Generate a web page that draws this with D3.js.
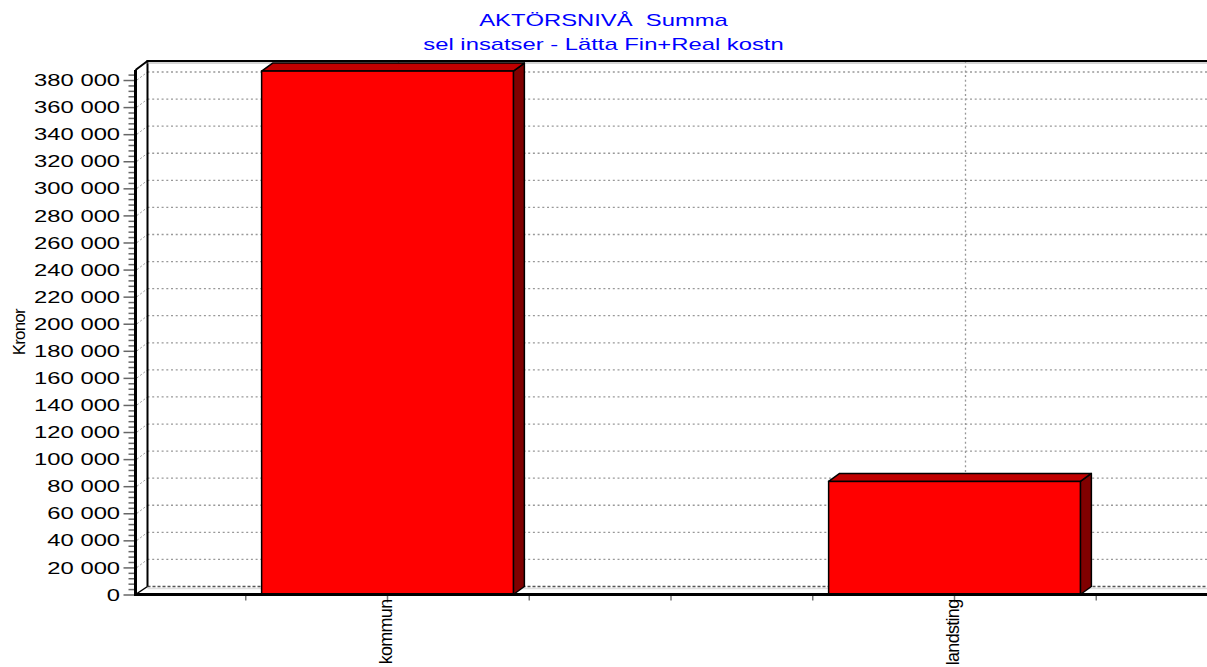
<!DOCTYPE html>
<html>
<head>
<meta charset="utf-8">
<script src="https://cdn.jsdelivr.net/npm/d3@7"></script>
<style>
  html, body { margin: 0; padding: 0; background: #fff; }
  svg { display: block; font-family: "Liberation Sans", Arial, sans-serif; }
</style>
</head>
<body>
<svg id="chart" width="1207" height="667"></svg>
<script>
// ---- data ----
const titleLines = ["AKTÖRSNIVÅ  Summa", "sel insatser - Lätta Fin+Real kostn"];
const yAxisLabel = "Kronor";
const categories = ["kommun", "landsting"];
const values = [386600, 83500];
const yTickValues = d3.range(0, 380001, 20000);
const yMinorTickValues = d3.range(0, 387000, 4000).filter(v => v % 20000 !== 0);
const yMax = 387400;

// ---- layout ----
const W = 1207, H = 667;
const frontLeft = 135.5, frontRight = 1207, frontBottom = 594.5, frontTop = 70;
const depthX = 11, depthY = 8;
const stretch = 1.4;

const svg = d3.select("#chart");

const y = d3.scaleLinear().domain([0, yMax]).range([frontBottom, frontTop]);
const x = d3.scaleBand().domain(categories)
  .range([frontLeft - 31.5, frontRight + 31])
  .paddingInner(0.556).paddingOuter(0.278);

const fmt = d3.formatLocale({ thousands: " ", grouping: [3], decimal: ",", currency: ["", ""] }).format(",");

// ---- back wall & floor ----
const backLeft = frontLeft + depthX + 1;
const backBottom = frontBottom - depthY;
const backTop = frontTop - depthY - 1;

const grid = svg.append("g");
yTickValues.filter(v => v > 0).forEach(v => {
  const yy = y(v);
  grid.append("line")
    .attr("x1", backLeft).attr("x2", W)
    .attr("y1", yy - depthY).attr("y2", yy - depthY)
    .attr("stroke", "#999").attr("stroke-width", 1.3).attr("stroke-dasharray", "2,2.7");
  grid.append("line")
    .attr("x1", frontLeft + 1.5).attr("x2", backLeft)
    .attr("y1", yy).attr("y2", yy - depthY)
    .attr("stroke", "#999").attr("stroke-width", 1).attr("stroke-dasharray", "2,2");
});
categories.forEach(c => {
  const xx = x(c) + x.bandwidth() / 2 + depthX;
  grid.append("line")
    .attr("x1", xx).attr("x2", xx)
    .attr("y1", backTop).attr("y2", backBottom)
    .attr("stroke", "#999").attr("stroke-width", 1.3).attr("stroke-dasharray", "2,2.7");
});

// floor
svg.append("line").attr("x1", backLeft).attr("x2", W)
  .attr("y1", backBottom + 2).attr("y2", backBottom + 2)
  .attr("stroke", "#ddd").attr("stroke-width", 1.5);
svg.append("line").attr("x1", backLeft).attr("x2", W)
  .attr("y1", backBottom).attr("y2", backBottom)
  .attr("stroke", "#555").attr("stroke-width", 1.3).attr("stroke-dasharray", "3,2");
// back wall frame
svg.append("path")
  .attr("d", `M${backLeft},${backBottom} L${backLeft},${backTop} L${W},${backTop}`)
  .attr("fill", "none").attr("stroke", "#000").attr("stroke-width", 2);
svg.append("line").attr("x1", backLeft).attr("x2", W)
  .attr("y1", backTop + 2).attr("y2", backTop + 2)
  .attr("stroke", "#aaa").attr("stroke-width", 1);
// left wall diagonals
svg.append("line").attr("x1", frontLeft).attr("y1", frontTop)
  .attr("x2", backLeft).attr("y2", backTop).attr("stroke", "#000").attr("stroke-width", 2);
svg.append("line").attr("x1", frontLeft).attr("y1", frontBottom)
  .attr("x2", backLeft).attr("y2", backBottom).attr("stroke", "#000").attr("stroke-width", 1.5);

// ---- bars ----
const bars = svg.append("g");
categories.forEach((c, i) => {
  const x0 = x(c), x1 = x(c) + x.bandwidth();
  const yt = y(values[i]), yb = frontBottom;
  bars.append("path")
    .attr("d", `M${x1},${yt} L${x1 + depthX},${yt - depthY} L${x1 + depthX},${yb - depthY} L${x1},${yb} Z`)
    .attr("fill", "#800000").attr("stroke", "#000").attr("stroke-width", 1.5).attr("stroke-linejoin", "round");
  bars.append("path")
    .attr("d", `M${x0},${yt} L${x0 + depthX},${yt - depthY} L${x1 + depthX},${yt - depthY} L${x1},${yt} Z`)
    .attr("fill", "#c00000").attr("stroke", "#000").attr("stroke-width", 1.5).attr("stroke-linejoin", "round");
  bars.append("rect")
    .attr("x", x0).attr("y", yt).attr("width", x1 - x0).attr("height", yb - yt)
    .attr("fill", "#ff0000").attr("stroke", "#000").attr("stroke-width", 1.5);
});

// ---- y axis ----
const yAxisG = svg.append("g").attr("transform", `translate(${frontLeft},0)`);
yAxisG.call(d3.axisLeft(y).tickValues(yTickValues).tickFormat(fmt).tickSize(12).tickPadding(3));
yAxisG.select(".domain").remove();
yAxisG.selectAll(".tick line").attr("stroke", "#666").attr("stroke-width", 1.5);
yAxisG.selectAll(".tick text")
  .attr("font-size", 17).attr("fill", "#000")
  .attr("font-family", "Liberation Sans, Arial, sans-serif")
  .attr("x", -11).attr("dy", "0.33em")
  .attr("transform", `scale(${stretch},1)`);
yAxisG.selectAll(".minor").data(yMinorTickValues).enter().append("line")
  .attr("class", "minor")
  .attr("x1", -7).attr("x2", 0)
  .attr("y1", d => y(d) + 0.5).attr("y2", d => y(d) + 0.5)
  .attr("stroke", "#666").attr("stroke-width", 1.5);
svg.append("line").attr("x1", frontLeft).attr("x2", frontLeft)
  .attr("y1", frontTop).attr("y2", frontBottom + 1.5)
  .attr("stroke", "#000").attr("stroke-width", 3);

// ---- x axis ----
svg.append("line").attr("x1", frontLeft).attr("x2", W)
  .attr("y1", frontBottom).attr("y2", frontBottom)
  .attr("stroke", "#000").attr("stroke-width", 3);
const step = x.step();
const centers = categories.map(c => x(c) + x.bandwidth() / 2);
const minorX = [];
for (let k = -1; k <= 5; k++) {
  const xx = centers[0] + k * step / 4;
  if (xx > frontLeft + 5 && xx < W && k % 4 !== 0) minorX.push(xx);
}
svg.append("g").selectAll("line").data(minorX).enter().append("line")
  .attr("x1", d => d).attr("x2", d => d)
  .attr("y1", frontBottom + 1.5).attr("y2", frontBottom + 6)
  .attr("stroke", "#777").attr("stroke-width", 1.5);
svg.append("g").selectAll("line").data(centers).enter().append("line")
  .attr("x1", d => d).attr("x2", d => d)
  .attr("y1", frontBottom + 1.5).attr("y2", frontBottom + 8)
  .attr("stroke", "#777").attr("stroke-width", 1.5);
svg.append("g").selectAll("text").data(categories).enter().append("text")
  .attr("transform", (d, i) => `translate(${centers[i] + 4},${frontBottom + 5}) rotate(-90)`)
  .attr("text-anchor", "end")
  .attr("font-size", 18).attr("letter-spacing", -0.7)
  .attr("fill", "#000")
  .text(d => d);

// ---- y label ----
svg.append("text")
  .attr("transform", `translate(25,${(frontTop + frontBottom) / 2}) rotate(-90)`)
  .attr("text-anchor", "middle")
  .attr("font-size", 17).attr("letter-spacing", -0.8)
  .attr("fill", "#000")
  .text(yAxisLabel);

// ---- title ----
titleLines.forEach((t, i) => {
  svg.append("text")
    .attr("transform", `translate(${W / 2},${26 + i * 24}) scale(${stretch},1)`)
    .attr("text-anchor", "middle")
    .attr("font-size", 17)
    .attr("fill", "#0000ff")
    .style("white-space", "pre")
    .text(t);
});
</script>
</body>
</html>
